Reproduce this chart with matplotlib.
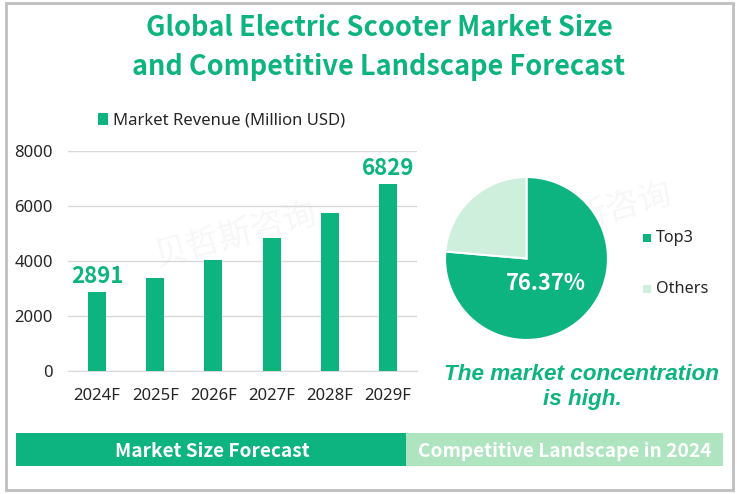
import matplotlib
matplotlib.use('Agg')
import matplotlib.pyplot as plt
from matplotlib.patches import Rectangle

years = ['2024F', '2025F', '2026F', '2027F', '2028F', '2029F']
revenue = [2891, 3400, 4050, 4850, 5760, 6829]
y_ticks = [0, 2000, 4000, 6000, 8000]
pie_labels = ['Top3', 'Others']
pie_values = [76.37, 23.63]

W, H = 737, 494
GREEN = '#0DB47F'
LIGHT = '#CFEFDD'
BAND = '#AEE4C0'
DARK = '#262626'
BOLD_FONT = ['Noto Sans CJK SC', 'DejaVu Sans']
ITALIC_FONT = ['Liberation Sans', 'DejaVu Sans']

plt.rcParams['font.family'] = ['Noto Sans', 'DejaVu Sans']

fig = plt.figure(figsize=(W / 100, H / 100), dpi=100)


def px_axes(left, top, right, bottom):
    # pixel box (from top left) to figure fractions
    return fig.add_axes([left / W, 1 - bottom / H, (right - left) / W, (bottom - top) / H])


def fig_text(x, y, s, **kw):
    fig.text(x / W, 1 - y / H, s, ha='center', va='center', **kw)


def fig_rect(left, top, right, bottom, **kw):
    fig.add_artist(Rectangle((left / W, 1 - bottom / H), (right - left) / W, (bottom - top) / H,
                             transform=fig.transFigure, **kw))


# outer frame, behind the axes
fig_rect(5.5, 3.5, 733, 489.5, facecolor='white', edgecolor='#BFBFBF', linewidth=2, zorder=-5)

# faint watermark
for wx, wy in [(235, 235), (590, 215)]:
    fig_text(wx, wy, '贝哲斯咨询', fontsize=24, rotation=15, color='#F7F7F7', family=BOLD_FONT, zorder=-4)

# title
fig_text(379, 28, 'Global Electric Scooter Market Size', fontsize=19.5, fontweight='bold', color=GREEN, family=BOLD_FONT)
fig_text(379, 67, 'and Competitive Landscape Forecast', fontsize=19.5, fontweight='bold', color=GREEN, family=BOLD_FONT)

# bar chart
ax = px_axes(68, 151.3, 417, 371.3)
ax.patch.set_alpha(0)
x = range(len(years))
ax.bar(x, revenue, width=0.31, color=GREEN, zorder=3, label='Market Revenue (Million USD)')
ax.set_xlim(-0.5, 5.5)
ax.set_ylim(0, 8000)
ax.set_xticks(list(x))
ax.set_xticklabels(years, fontsize=12, color=DARK)
ax.set_yticks(y_ticks)
ax.tick_params(axis='y', labelsize=12, labelcolor=DARK, length=0, pad=11)
ax.tick_params(axis='x', length=0, pad=12)
ax.grid(axis='y', color='#D9D9D9', linewidth=1, zorder=0)
for side in ['top', 'right', 'left']:
    ax.spines[side].set_visible(False)
ax.spines['bottom'].set_color('#D9D9D9')

# only first and last bars are labelled
for i in [0, len(years) - 1]:
    ax.annotate(str(revenue[i]), (i, revenue[i]), xytext=(0, 2.5), textcoords='offset points',
                ha='center', va='bottom', fontsize=16, fontweight='bold', color=GREEN, family=BOLD_FONT)

ax.legend(loc='center', bbox_to_anchor=(0.44, 1.14), frameon=False, fontsize=12,
          handlelength=0.6, handleheight=0.7, handletextpad=0.28, labelcolor=DARK)

# pie chart
pie_ax = px_axes(440, 172, 613, 345)
pie_ax.pie(pie_values, colors=[GREEN, LIGHT], startangle=90, counterclock=False, radius=1,
           wedgeprops={'edgecolor': 'white', 'linewidth': 1.5})
pie_ax.set_xlim(-86 / 81, 86 / 81)
pie_ax.set_ylim(-86 / 81, 86 / 81)
fig_text(546, 284, f'{pie_values[0]:.2f}%', fontsize=15.8, fontweight='bold', color='white', family=BOLD_FONT)

# pie legend
for name, color, y in zip(pie_labels, [GREEN, LIGHT], [237, 288]):
    fig_rect(643, y - 3, 651, y + 5, facecolor=color, edgecolor='none')
    fig.text(656 / W, 1 - (y + 1) / H, name, ha='left', va='center', fontsize=11.7, color=DARK)

# takeaway
fig_text(582, 374, 'The market concentration', fontsize=16.2, fontweight='bold', style='italic', color=GREEN, family=ITALIC_FONT)
fig_text(582, 399, 'is high.', fontsize=16.2, fontweight='bold', style='italic', color=GREEN, family=ITALIC_FONT)

# bottom bands
fig_rect(16, 433, 406, 466, facecolor=GREEN, edgecolor='none')
fig_rect(406, 433, 723, 466, facecolor=BAND, edgecolor='none')
fig_text(212, 451, 'Market Size Forecast', fontsize=13.7, fontweight='bold', color='white', family=BOLD_FONT)
fig_text(564.5, 451, 'Competitive Landscape in 2024', fontsize=13.75, fontweight='bold', color='white', family=BOLD_FONT)

fig.savefig('out.png', dpi=100)
